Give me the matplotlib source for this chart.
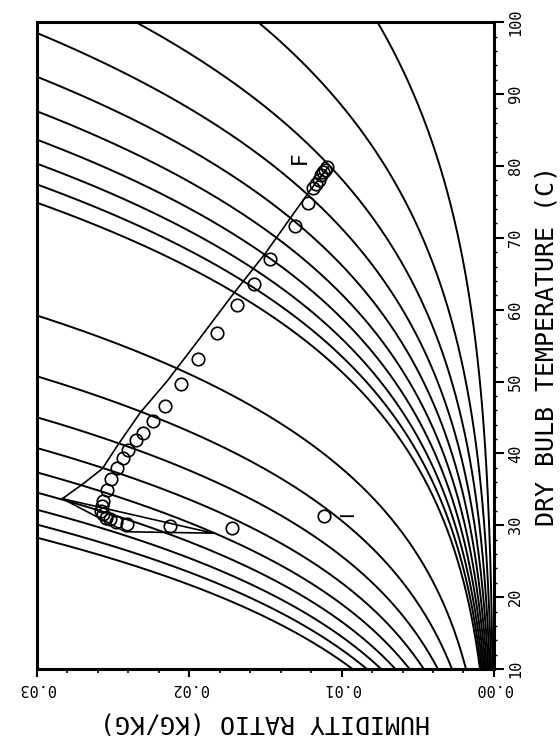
import numpy as np
import matplotlib.pyplot as plt

plt.rcParams['font.family'] = ['DejaVu Sans Mono']

# relative humidity levels of the background grid and the barometric pressure (kPa)
rh_levels = [0.01, 0.02, 0.03, 0.04, 0.05, 0.06, 0.07, 0.08, 0.09, 0.10,
             0.2, 0.3, 0.4, 0.5, 0.6, 0.7, 0.8, 0.9, 1.0]
p_baro = 83.5

# measured outlet air states (humidity ratio kg/kg, dry bulb C)
meas_w = [0.01095, 0.01108, 0.01121, 0.01134, 0.01148, 0.01167, 0.01187,
          0.01220, 0.01305, 0.01469, 0.01574, 0.01685, 0.01816, 0.01941,
          0.02052, 0.02157, 0.02236, 0.02302, 0.02347, 0.02400, 0.02433,
          0.02472, 0.02511, 0.02538, 0.02564, 0.02570, 0.02577, 0.02564,
          0.02544, 0.02518, 0.02479, 0.02406, 0.02124, 0.01718]
meas_t = [79.9, 79.5, 79.1, 78.7, 78.1, 77.5, 76.9,
          74.9, 71.7, 67.0, 63.6, 60.6, 56.8, 53.2,
          49.7, 46.6, 44.5, 42.9, 41.8, 40.5, 39.4,
          38.0, 36.5, 34.9, 33.4, 32.7, 32.0, 31.6,
          31.0, 30.9, 30.5, 30.2, 29.9, 29.6]

# inlet air state
inlet_w = 0.01115
inlet_t = 31.3

# simulated outlet path
sim_w = [0.02833, 0.02420, 0.01843, 0.02833, 0.02695, 0.02570, 0.02465,
         0.02321, 0.02144, 0.01928, 0.01711, 0.01502, 0.01338, 0.01207, 0.01082]
sim_t = [33.7, 29.1, 28.9, 33.7, 35.8, 37.9, 41.3,
         45.7, 50.1, 56.1, 62.2, 67.8, 72.7, 76.6, 80.0]

temp_ticks = [10, 20, 30, 40, 50, 60, 70, 80, 90, 100]
w_ticks = [0.00, 0.01, 0.02, 0.03]


def p_sat(t):
    # Buck equation, kPa
    return 0.61121 * np.exp((18.678 - t / 234.5) * (t / (257.14 + t)))


fig = plt.figure(figsize=(5.6, 7.42), dpi=100)
ax = fig.add_axes([0.066, 0.0984, 0.816, 0.8716])

t = np.linspace(10, 100, 600)
for rh in rh_levels:
    pv = rh * p_sat(t)
    w = 0.622 * pv / (p_baro - pv)
    # stop each curve once it has left the chart on the humid side
    w = np.where((pv < p_baro) & (w < 0.05), w, np.nan)
    ax.plot(w, t, color='black', lw=1.4)

ax.plot(sim_w, sim_t, color='black', lw=1.2)
ax.plot(meas_w, meas_t, 'o', ms=9, mfc='none', mec='black', mew=1.2)
ax.plot([inlet_w], [inlet_t], 'o', ms=9, mfc='none', mec='black', mew=1.2)

ax.text(0.01272, 81.2, 'F', rotation=90, fontsize=16, family='DejaVu Sans',
        ha='center', va='center')
ax.text(inlet_w - 0.00155, 31.5, 'I', rotation=90, fontsize=14, family='DejaVu Sans',
        ha='center', va='center')

ax.set_xlim(0.03, 0.0)
ax.set_ylim(10, 100)

ax.yaxis.tick_right()
ax.yaxis.set_label_position('right')
ax.set_yticks(temp_ticks)
ax.set_yticklabels([str(v) for v in temp_ticks])
ax.set_xticks(w_ticks)
ax.set_xticklabels([f'{v:.2f}' for v in w_ticks])
ax.set_xticks(np.arange(0, 0.0301, 0.002), minor=True)
ax.set_yticks(np.arange(10, 101, 2), minor=True)

ax.tick_params(axis='x', which='major', direction='out', length=6, width=1.5,
               labelsize=11, labelrotation=180, pad=3)
ax.tick_params(axis='x', which='minor', direction='out', length=3, width=1.2)
ax.tick_params(axis='y', which='major', direction='out', length=7, width=1.5,
               labelsize=11, labelrotation=90, pad=3)
ax.tick_params(axis='y', which='minor', direction='out', length=2, width=1.0)
for lbl in ax.get_yticklabels():
    lbl.set_va('center')

for side in ['left', 'right', 'top', 'bottom']:
    ax.spines[side].set_linewidth(2.2)

ax.set_xlabel('HUMIDITY RATIO (KG/KG)', fontsize=18, rotation=180)
ax.set_ylabel('DRY BULB TEMPERATURE (C)', fontsize=18, rotation=90)
ax.xaxis.set_label_coords(0.5, -0.082)
ax.yaxis.set_label_coords(1.116, 0.5)
ax.xaxis.label.set_va('center')
ax.yaxis.label.set_va('center')

fig.savefig('out.png', dpi=100)
